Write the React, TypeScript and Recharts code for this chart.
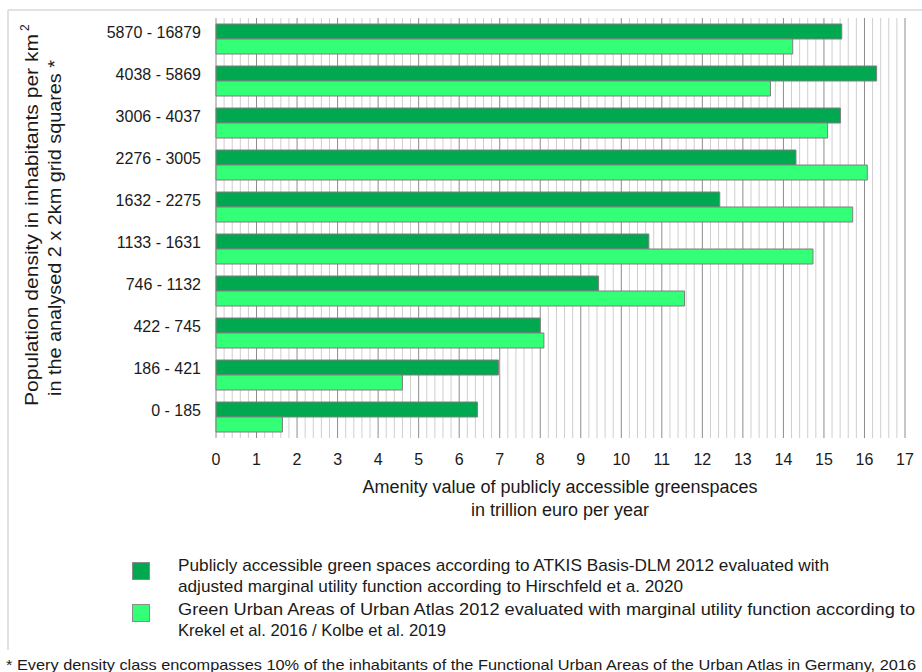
import React from "react";
import { BarChart, Bar, XAxis, YAxis, CartesianGrid } from "recharts";

// density classes, top to bottom
const densityClasses = [
  "5870 - 16879",
  "4038 - 5869",
  "3006 - 4037",
  "2276 - 3005",
  "1632 - 2275",
  "1133 - 1631",
  "746 - 1132",
  "422 - 745",
  "186 - 421",
  "0 - 185",
];

// trillion euro per year
const atkisValues = [15.44, 16.3, 15.41, 14.31, 12.43, 10.68, 9.44, 8.0, 6.97, 6.45];
const urbanAtlasValues = [14.23, 13.68, 15.09, 16.07, 15.71, 14.73, 11.56, 8.09, 4.6, 1.64];

const xTicks = [0, 1, 2, 3, 4, 5, 6, 7, 8, 9, 10, 11, 12, 13, 14, 15, 16, 17];

const legendLabels = [
  [
    "Publicly accessible green spaces according to ATKIS Basis-DLM 2012 evaluated with",
    "adjusted marginal utility function according to Hirschfeld et a. 2020",
  ],
  [
    "Green Urban Areas of Urban Atlas 2012 evaluated with marginal utility function according to",
    "Krekel et al. 2016 / Kolbe et al. 2019",
  ],
];
// rough printed widths of the legend lines
const legendWidths = [
  [651, 505],
  [737, 268],
];

const footnote =
  "* Every density class encompasses 10% of the inhabitants of the Functional Urban Areas of the Urban Atlas in Germany, 2016";

const DARK = "#00A94F";
const LIGHT = "#33FF77";
const FONT = "'Liberation Sans', Arial, sans-serif";
const TEXT = "#1a1a1a";

const chartData = densityClasses.map((c, i) => ({
  name: c,
  atkis: atkisValues[i],
  urban: urbanAtlasValues[i],
}));

const X_MAX = 17;

function minorLines({ offset }: any) {
  const out: number[] = [];
  for (let i = 0; i <= X_MAX * 5; i++) {
    if (i % 5 === 0) continue;
    out.push(offset.left + ((i / 5) / X_MAX) * offset.width);
  }
  return out;
}

function majorLines({ offset }: any) {
  return xTicks.map((t) => offset.left + (t / X_MAX) * offset.width);
}

function CategoryTick(props: any) {
  const { x, y, payload } = props;
  return (
    <text
      x={x}
      y={y - 7}
      textAnchor="end"
      dominantBaseline="central"
      fontSize={16}
      fontFamily={FONT}
      fill={TEXT}
    >
      {payload.value}
    </text>
  );
}

export default function App() {
  return (
    <div
      style={{
        position: "absolute",
        left: 0,
        top: 0,
        width: 922,
        height: 672,
        background: "#fff",
        overflow: "hidden",
      }}
    >
      <div style={{ position: "absolute", left: 0, top: 0 }}>
        <BarChart
          width={922}
          height={672}
          data={chartData}
          layout="vertical"
          margin={{ top: 18, right: 17, bottom: 204, left: 0 }}
          barCategoryGap={6}
          barGap={0}
        >
          <CartesianGrid
            horizontal={false}
            stroke="#cfcfcf"
            verticalCoordinatesGenerator={minorLines}
          />
          <CartesianGrid
            horizontal={false}
            stroke="#8c8c8c"
            verticalCoordinatesGenerator={majorLines}
          />
          <XAxis
            type="number"
            domain={[0, X_MAX]}
            ticks={xTicks}
            axisLine={false}
            tickLine={false}
            tickSize={0}
            tickMargin={16}
            height={30}
            interval={0}
            tick={{ fontSize: 16, fill: TEXT, fontFamily: FONT }}
          />
          <YAxis
            type="category"
            dataKey="name"
            width={216}
            axisLine={false}
            tickLine={false}
            tickSize={0}
            tickMargin={15}
            interval={0}
            tick={<CategoryTick />}
          />
          <Bar
            dataKey="atkis"
            fill={DARK}
            stroke="#7f7f7f"
            strokeWidth={1}
            isAnimationActive={false}
          />
          <Bar
            dataKey="urban"
            fill={LIGHT}
            stroke="#7f7f7f"
            strokeWidth={1}
            isAnimationActive={false}
          />
        </BarChart>
      </div>

      <svg
        width={922}
        height={672}
        style={{ position: "absolute", left: 0, top: 0, pointerEvents: "none" }}
        fontFamily={FONT}
        fill={TEXT}
      >
        {/* frame */}
        <line x1={8} y1={10} x2={922} y2={10} stroke="#d9d9d9" strokeWidth={1.5} />
        <line x1={8} y1={10} x2={8} y2={650} stroke="#d9d9d9" strokeWidth={1.5} />

        {/* y axis title */}
        <text transform="translate(38,406) rotate(-90)" fontSize={18}>
          <tspan textLength={372} lengthAdjust="spacingAndGlyphs">
            Population density in inhabitants per km
          </tspan>
          <tspan fontSize={12} dx={3} dy={-9}>
            2
          </tspan>
        </text>
        <text
          transform="translate(61,396) rotate(-90)"
          fontSize={18}
          textLength={336}
          lengthAdjust="spacingAndGlyphs"
        >
          in the analysed 2 x 2km grid squares *
        </text>

        {/* x axis title */}
        <text x={560} y={493} textAnchor="middle" fontSize={18}>
          Amenity value of publicly accessible greenspaces
        </text>
        <text x={560} y={516} textAnchor="middle" fontSize={18}>
          in trillion euro per year
        </text>

        {/* legend */}
        <rect x={132.5} y={562.5} width={17} height={17} fill={DARK} stroke="#8c8c8c" />
        <rect x={132.5} y={604.5} width={17} height={17} fill={LIGHT} stroke="#8c8c8c" />
        {legendLabels.map((lines, i) =>
          lines.map((line, j) => (
            <text
              key={`${i}-${j}`}
              x={178}
              y={565 + i * 44 + j * 21}
              dominantBaseline="central"
              fontSize={17}
              textLength={legendWidths[i][j]}
              lengthAdjust="spacingAndGlyphs"
            >
              {line}
            </text>
          ))
        )}

        {/* footnote */}
        <text
          x={6}
          y={664}
          dominantBaseline="central"
          fontSize={15}
          textLength={910}
          lengthAdjust="spacingAndGlyphs"
        >
          {footnote}
        </text>
      </svg>
    </div>
  );
}
